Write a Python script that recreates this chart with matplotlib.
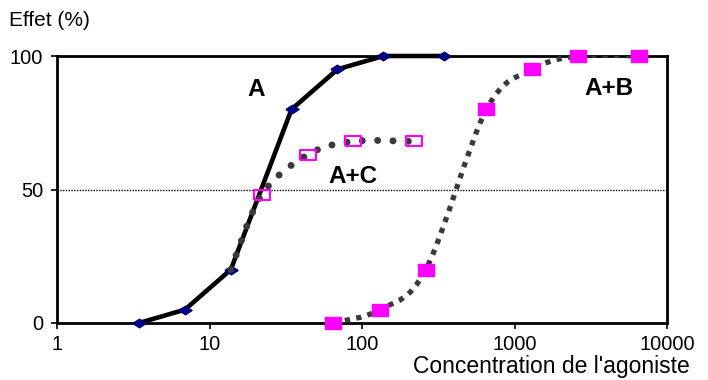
import numpy as np
import matplotlib.pyplot as plt
from matplotlib.path import Path
from matplotlib.patches import PathPatch

plt.rcParams['font.family'] = ['Liberation Sans', 'DejaVu Sans']

# donnees
conc_A = [3.45, 6.9, 13.8, 34.5, 69, 138, 345]
effet_A = [0, 5, 20, 80, 95, 100, 100]

conc_AC = [13.8, 22, 44, 87, 219]
effet_AC = [20, 48, 63, 68, 68]

conc_AB = [65, 131, 262, 655, 1310, 2620, 6550]
effet_AB = [0, 5, 20, 80, 95, 100, 100]

xticks = [1, 10, 100, 1000, 10000]
xtick_labels = ["1", "10", "100", "1000", "10000"]
yticks = [0, 50, 100]
ytick_labels = ["0", "50", "100"]


def smooth_path(xs, ys, sx=610.0, sy=267.0):
    # courbe lissee (Bezier facon Excel) calculee dans l'espace log
    px = np.log10(xs) / 4 * sx
    py = np.array(ys, dtype=float) / 100 * sy
    P = np.column_stack([px, py])
    P = np.vstack([P[0], P, P[-1]])
    verts = [P[1]]
    codes = [Path.MOVETO]
    for i in range(1, len(P) - 2):
        c1 = P[i] + (P[i + 1] - P[i - 1]) / 6
        c2 = P[i + 1] - (P[i + 2] - P[i]) / 6
        verts += [c1, c2, P[i + 1]]
        codes += [Path.CURVE4] * 3
    verts = np.array(verts)
    data = np.column_stack([10 ** (verts[:, 0] / sx * 4), verts[:, 1] / sy * 100])
    return Path(data, codes)


diamond = [(-1, 0), (0, 0.65), (1, 0), (0, -0.65), (-1, 0)]
rect = [(-1, -0.75), (1, -0.75), (1, 0.75), (-1, 0.75), (-1, -0.75)]
rect_flat = [(-1, -0.6), (1, -0.6), (1, 0.6), (-1, 0.6), (-1, -0.6)]

fig = plt.figure(figsize=(7.08, 3.8), dpi=100)
ax = fig.add_axes([57 / 708, 1 - 323 / 380, 610 / 708, 267 / 380])
ax.set_xscale('log')
ax.set_xlim(1, 10000)
ax.set_ylim(0, 100)

# ligne 50 %
ax.axhline(50, color='black', lw=1, linestyle=(0, (1, 1)), zorder=1)

# A
ax.plot(conc_A, effet_A, color='black', lw=3.3, marker=diamond, markersize=9.5,
        markerfacecolor='#000080', markeredgecolor='#000080', clip_on=False, zorder=3)

# A+C
p = PathPatch(smooth_path(conc_AC, effet_AC), fill=False, edgecolor='#3a3a3a', lw=5,
              linestyle=(0, (0.01, 2.2)), capstyle='round', zorder=4)
ax.add_patch(p)
ax.plot(conc_AC[1:], effet_AC[1:], linestyle='none', marker=rect_flat, markersize=11.5,
        markerfacecolor='none', markeredgecolor='#ff00ff', markeredgewidth=1.5,
        clip_on=False, zorder=5)

# A+B
p = PathPatch(smooth_path(conc_AB, effet_AB), fill=False, edgecolor='#3a3a3a', lw=3.8,
              linestyle=(0, (1.0, 1.2)), capstyle='butt', zorder=4)
ax.add_patch(p)
ax.plot(conc_AB, effet_AB, linestyle='none', marker=rect, markersize=11,
        markerfacecolor='#ff00ff', markeredgecolor='#ff00ff', clip_on=False, zorder=5)

ax.text(0.326, 0.873, "A", transform=ax.transAxes, fontsize=17.5, fontweight='bold',
        ha='center', va='center')
ax.text(0.485, 0.547, "A+C", transform=ax.transAxes, fontsize=17.5, fontweight='bold',
        ha='center', va='center')
ax.text(0.905, 0.88, "A+B", transform=ax.transAxes, fontsize=17.5, fontweight='bold',
        ha='center', va='center')

ax.set_xticks(xticks)
ax.set_xticklabels(xtick_labels)
ax.xaxis.set_minor_locator(plt.NullLocator())
ax.set_yticks(yticks)
ax.set_yticklabels(ytick_labels)
ax.tick_params(direction='out', length=4, width=1.2, labelsize=14.4, pad=5)
ax.tick_params(axis='y', pad=6)
for s in ax.spines.values():
    s.set_linewidth(2)

fig.text(9 / 708, 1 - 21 / 380, "Effet (%)", fontsize=15, ha='left', va='center')
fig.text(690 / 708, 1 - 367 / 380, "Concentration de l'agoniste", fontsize=16.5,
         ha='right', va='center')

fig.savefig('out.png', dpi=100)
